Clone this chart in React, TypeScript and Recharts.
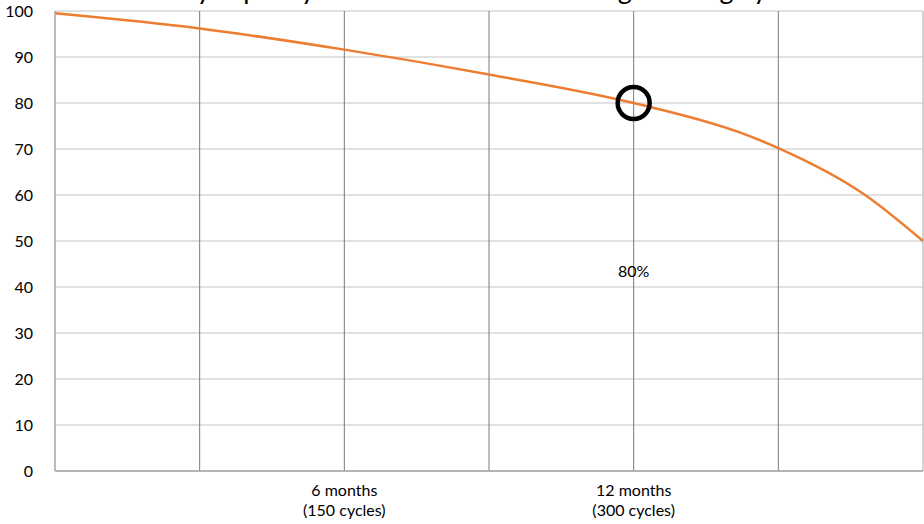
import React from 'react';
import { LineChart, Line, XAxis, YAxis, CartesianGrid, ReferenceLine, ReferenceDot } from 'recharts';

const cycles = [0, 75, 150, 225, 300, 355, 375, 420, 450];
const capacity = [99.5, 96.2, 91.6, 86.2, 80, 73.6, 70.2, 60, 50];
const xTicks = [0, 75, 150, 225, 300, 375, 450];
const innerXGrid = [75, 150, 225, 300, 375];
const yTicks = [0, 10, 20, 30, 40, 50, 60, 70, 80, 90, 100];
const labeledTicks = [150, 300];
const tickMonths = ['6 months', '12 months'];
const tickCycles = ['(150 cycles)', '(300 cycles)'];
const markerCycle = 300;
const markerValue = 80;
const markerLabel = '80%';
const markerLabelValue = 43.4;
const title = 'Battery capacity retention over time during working cycles';

const data = cycles.map((c, i) => ({ cycle: c, capacity: capacity[i] }));

const FONT = 'Lato, "Open Sans", sans-serif';

const XTick = (props: any) => {
  const { x, y, payload } = props;
  const idx = labeledTicks.indexOf(payload.value);
  if (idx < 0) return null;
  return (
    <text x={x} y={y} textAnchor="middle" fontFamily={FONT} fontSize={16} fill="#000">
      <tspan x={x} y={y + 25}>{tickMonths[idx]}</tspan>
      <tspan x={x} y={y + 45}>{tickCycles[idx]}</tspan>
    </text>
  );
};

export default function App() {
  return (
    <div style={{ position: 'absolute', left: 0, top: 0, width: 924, height: 524, background: '#fff' }}>
      <LineChart
        width={924}
        height={524}
        data={data}
        margin={{ top: 11, right: 1, bottom: 0, left: 0 }}
      >
        <CartesianGrid horizontal={true} vertical={false} stroke="#c4c4c4" strokeWidth={1.2} />
        {innerXGrid.map((v) => (
          <ReferenceLine key={v} x={v} stroke="#7a7a7a" strokeWidth={1} />
        ))}
        <ReferenceLine x={450} stroke="#c4c4c4" strokeWidth={1.5} />
        <XAxis
          dataKey="cycle"
          type="number"
          domain={[0, 450]}
          ticks={xTicks}
          interval={0}
          height={53}
          tickLine={false}
          tickSize={0}
          tickMargin={0}
          axisLine={{ stroke: '#a6a6a6', strokeWidth: 1.5 }}
          tick={<XTick />}
        />
        <YAxis
          type="number"
          domain={[0, 100]}
          ticks={yTicks}
          interval={0}
          width={55}
          tickLine={false}
          tickSize={0}
          tickMargin={22}
          axisLine={{ stroke: '#a6a6a6', strokeWidth: 1.5 }}
          tick={{ fontFamily: FONT, fontSize: 16, fill: '#000' }}
        />
        <Line
          type="monotone"
          dataKey="capacity"
          stroke="#ED7D31"
          strokeWidth={2.5}
          dot={false}
          activeDot={false}
          isAnimationActive={false}
        />
        <ReferenceDot
          x={markerCycle}
          y={markerValue}
          r={16}
          fill="none"
          stroke="#000"
          strokeWidth={4.5}
        />
        <ReferenceDot
          x={markerCycle}
          y={markerLabelValue}
          r={0}
          fill="none"
          stroke="none"
          label={{ value: markerLabel, position: 'center', fontFamily: FONT, fontSize: 16, fill: '#000' }}
        />
      </LineChart>
      <svg width={924} height={20} style={{ position: 'absolute', left: 0, top: 0, pointerEvents: 'none' }}>
        <text x={468} y={-1.5} textAnchor="middle" fontFamily={FONT} fontSize={27} fill="#000">
          {title}
        </text>
      </svg>
    </div>
  );
}
